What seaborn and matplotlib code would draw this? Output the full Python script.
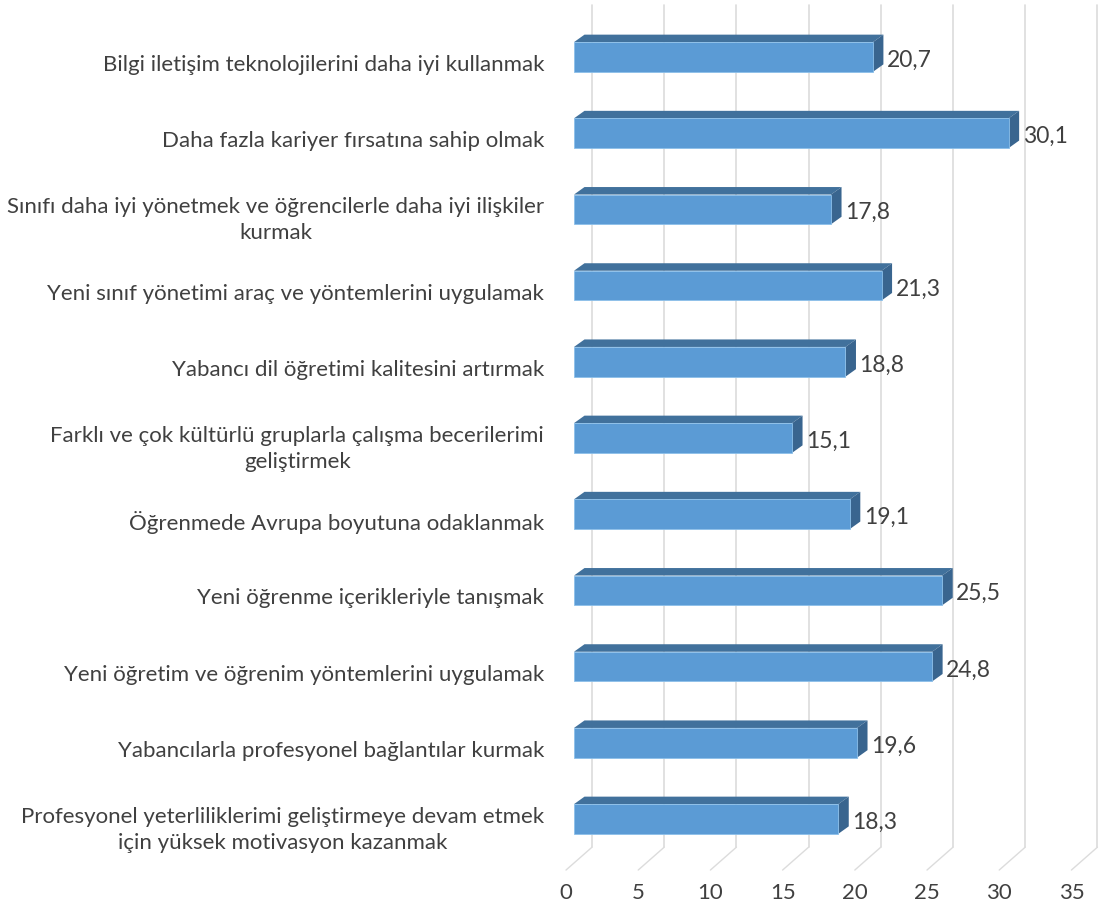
import matplotlib
matplotlib.use('Agg')
import matplotlib.pyplot as plt
import matplotlib.transforms as mtrans
import pandas as pd
import seaborn as sns

labels = [
    'Bilgi iletişim teknolojilerini daha iyi kullanmak',
    'Daha fazla kariyer fırsatına sahip olmak',
    'Sınıfı daha iyi yönetmek ve öğrencilerle daha iyi ilişkiler\nkurmak',
    'Yeni sınıf yönetimi araç ve yöntemlerini uygulamak',
    'Yabancı dil öğretimi kalitesini artırmak',
    'Farklı ve çok kültürlü gruplarla çalışma becerilerimi\ngeliştirmek',
    'Öğrenmede Avrupa boyutuna odaklanmak',
    'Yeni öğrenme içerikleriyle tanışmak',
    'Yeni öğretim ve öğrenim yöntemlerini uygulamak',
    'Yabancılarla profesyonel bağlantılar kurmak',
    'Profesyonel yeterliliklerimi geliştirmeye devam etmek\niçin yüksek motivasyon kazanmak',
]
values = [20.7, 30.1, 17.8, 21.3, 18.8, 15.1, 19.1, 25.5, 24.8, 19.6, 18.3]
xticks = [0, 5, 10, 15, 20, 25, 30, 35]

FACE = '#5B9BD5'
TOP = '#41719C'
SIDE = '#39658F'
GRID = '#DCDCDC'
TEXT = '#404040'

W, H = 1099, 909
# front plane: x=0 at 574px, 14.44 px per unit, rows 76.2 px apart, first row at 57px
x0, xs = 574, 14.44
y0, ys = 57, 76.2

sns.set_theme(style='white')
plt.rcParams['font.family'] = ['Lato', 'DejaVu Sans']

df = pd.DataFrame({'label': labels, 'value': values})

fig = plt.figure(figsize=(W / 100, H / 100), dpi=100)
left = x0
right = x0 + xs * 35
top = y0 - ys * 0.5
bottom = y0 + ys * 10.5
ax = fig.add_axes([left / W, 1 - bottom / H, (right - left) / W, (bottom - top) / H])

sns.barplot(data=df, y='label', x='value', color=FACE, saturation=1, width=0.39,
            edgecolor='#8CC0EA', linewidth=0.6, ax=ax, zorder=3)
ax.set_xlim(0, 35)
ax.set_ylim(10.5, -0.5)

# depth of the fake 3d, in data units
dx = 10.5 / xs
dy = 7.5 / ys

# back wall grid and floor lines
wall_dx = 18 / xs
floor_dx = -8 / xs
wall_top = -0.68
wall_bot = 10.37
floor_bot = 10.67
for t in xticks:
    ax.plot([t + wall_dx, t + wall_dx], [wall_top, wall_bot], color=GRID, lw=1.2,
            clip_on=False, zorder=1)
    ax.plot([t + wall_dx, t + floor_dx], [wall_bot, floor_bot], color=GRID, lw=1.0,
            clip_on=False, zorder=1)

# top and side faces from the bars seaborn drew
for bar, val in zip(ax.patches, values):
    ytop = bar.get_y()
    ybot = ytop + bar.get_height()
    ax.fill([0, dx, val + dx, val], [ytop, ytop - dy, ytop - dy, ytop],
            color=TOP, lw=0, clip_on=False, zorder=2)
    ax.fill([val, val + dx, val + dx, val], [ytop, ytop - dy, ybot - dy, ybot],
            color=SIDE, lw=0, clip_on=False, zorder=2)
    ax.annotate(f'{val:.1f}'.replace('.', ','), (val, (ytop + ybot) / 2),
                xytext=(10, -2.4), textcoords='offset points', va='center', ha='left',
                fontsize=16.5, color=TEXT, zorder=4)

sns.despine(ax=ax, left=True, bottom=True, top=True, right=True)
ax.set_xlabel('')
ax.set_ylabel('')
ax.set_xticks(xticks)
ax.set_xticklabels([str(t) for t in xticks])
ax.tick_params(axis='x', length=0, pad=19, labelsize=16, labelcolor=TEXT)
ax.tick_params(axis='y', length=0, pad=21.5, labelsize=16, labelcolor=TEXT)
shift = mtrans.ScaledTranslation(-8 / 100, 0, fig.dpi_scale_trans)
for lab in ax.get_xticklabels():
    lab.set_transform(lab.get_transform() + shift)
down = mtrans.ScaledTranslation(0, -6 / 100, fig.dpi_scale_trans)
for lab in ax.get_yticklabels():
    lab.set_multialignment('center')
    lab.set_linespacing(1.35)
    lab.set_transform(lab.get_transform() + down)

fig.savefig('out.png', dpi=100)
